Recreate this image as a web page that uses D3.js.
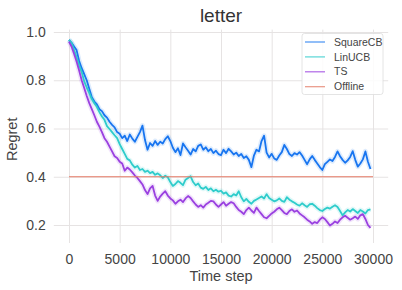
<!DOCTYPE html>
<html>
<head>
<meta charset="utf-8">
<script src="https://cdn.jsdelivr.net/npm/d3@7"></script>
<style>
  body { margin: 0; background: #fff; }
  svg { font-family: "Liberation Sans", Arial, sans-serif; }
  .axis .domain { display: none; }
  .axis line { stroke: #e6e3e3; stroke-width: 1; }
  .axis text { fill: #444; font-size: 14px; }
</style>
</head>
<body>
<div id="chart"></div>
<script>
// time steps, one sample every 250 steps
const steps = d3.range(0, 30000, 250);

const squareCB = [
  0.967, 0.955, 0.940, 0.925, 0.880, 0.850, 0.825, 0.800, 0.765, 0.730,
  0.712, 0.700, 0.680, 0.672, 0.655, 0.645, 0.628, 0.615, 0.605, 0.585,
  0.578, 0.560, 0.570, 0.548, 0.575, 0.558, 0.545, 0.565, 0.585, 0.612,
  0.552, 0.512, 0.540, 0.528, 0.548, 0.532, 0.545, 0.538, 0.556, 0.568,
  0.548, 0.520, 0.502, 0.518, 0.490, 0.538, 0.522, 0.508, 0.492, 0.515,
  0.505, 0.528, 0.534, 0.512, 0.522, 0.506, 0.515, 0.498, 0.508, 0.494,
  0.490, 0.512, 0.498, 0.516, 0.505, 0.492, 0.500, 0.486, 0.494, 0.478,
  0.485, 0.470, 0.440, 0.488, 0.512, 0.505, 0.548, 0.570, 0.500, 0.480,
  0.495, 0.476, 0.470, 0.488, 0.502, 0.532, 0.515, 0.494, 0.486, 0.498,
  0.492, 0.502, 0.488, 0.470, 0.452, 0.472, 0.486, 0.470, 0.455, 0.440,
  0.428, 0.452, 0.462, 0.472, 0.465, 0.482, 0.505, 0.485, 0.470, 0.458,
  0.468, 0.482, 0.506, 0.470, 0.442, 0.455, 0.472, 0.505, 0.462, 0.432
];

const linUCB = [
  0.967, 0.955, 0.925, 0.895, 0.862, 0.835, 0.795, 0.770, 0.748, 0.722,
  0.705, 0.690, 0.668, 0.650, 0.636, 0.610, 0.598, 0.585, 0.572, 0.560,
  0.535, 0.515, 0.495, 0.474, 0.468, 0.450, 0.438, 0.445, 0.428, 0.432,
  0.420, 0.425, 0.415, 0.420, 0.408, 0.414, 0.406, 0.395, 0.404, 0.398,
  0.378, 0.362, 0.370, 0.382, 0.375, 0.365, 0.388, 0.395, 0.402, 0.378,
  0.365, 0.372, 0.355, 0.350, 0.358, 0.345, 0.352, 0.340, 0.346, 0.338,
  0.342, 0.330, 0.335, 0.322, 0.318, 0.328, 0.322, 0.340, 0.315, 0.298,
  0.308, 0.296, 0.288, 0.300, 0.306, 0.312, 0.318, 0.310, 0.328, 0.312,
  0.305, 0.298, 0.302, 0.310, 0.300, 0.296, 0.315, 0.305, 0.298, 0.292,
  0.285, 0.280, 0.290, 0.282, 0.275, 0.286, 0.288, 0.280, 0.270, 0.262,
  0.258, 0.266, 0.272, 0.268, 0.276, 0.282, 0.275, 0.258, 0.240, 0.252,
  0.262, 0.256, 0.266, 0.258, 0.250, 0.262, 0.256, 0.248, 0.262, 0.265
];

const ts = [
  0.960, 0.940, 0.910, 0.878, 0.840, 0.800, 0.768, 0.735, 0.705, 0.680,
  0.655, 0.628, 0.608, 0.585, 0.560, 0.545, 0.525, 0.505, 0.485, 0.478,
  0.462, 0.455, 0.425, 0.438, 0.430, 0.418, 0.405, 0.395, 0.382, 0.368,
  0.345, 0.328, 0.352, 0.362, 0.322, 0.300, 0.318, 0.330, 0.340, 0.322,
  0.310, 0.302, 0.288, 0.298, 0.305, 0.295, 0.310, 0.320, 0.312, 0.298,
  0.285, 0.275, 0.282, 0.272, 0.285, 0.292, 0.300, 0.298, 0.285, 0.275,
  0.285, 0.295, 0.280, 0.288, 0.295, 0.290, 0.275, 0.262, 0.255, 0.245,
  0.262, 0.272, 0.260, 0.250, 0.272, 0.258, 0.245, 0.232, 0.228, 0.238,
  0.248, 0.255, 0.265, 0.272, 0.262, 0.250, 0.245, 0.258, 0.265, 0.255,
  0.260, 0.248, 0.240, 0.232, 0.222, 0.215, 0.205, 0.212, 0.208, 0.222,
  0.232, 0.225, 0.212, 0.198, 0.205, 0.215, 0.208, 0.222, 0.232, 0.238,
  0.230, 0.222, 0.228, 0.235, 0.225, 0.240, 0.245, 0.225, 0.200, 0.188
];

const offline = 0.4;
const offlineSpan = [0, 30000];

const xTicks = [0, 5000, 10000, 15000, 20000, 25000, 30000];
const yTicks = [0.2, 0.4, 0.6, 0.8, 1.0];

const series = [
  { name: 'SquareCB', values: squareCB, color: '#1875f0' },
  { name: 'LinUCB', values: linUCB, color: '#2ecccb' },
  { name: 'TS', values: ts, color: '#9a40e0' }
];
const offlineColor = '#e47a66';

const width = 402, height = 290;
const plot = { left: 53.8, right: 388.2, top: 29.6, bottom: 243 };

const svg = d3.select('#chart').append('svg')
  .attr('width', width)
  .attr('height', height);

// scales
const x = d3.scaleLinear().domain([0, 30000]).range([69, 373]);
const y = d3.scaleLinear().domain([0.2, 1.0]).range([225, 32]);

// grid + tick labels
svg.append('g').attr('class', 'axis axis-x')
  .attr('transform', `translate(0, ${plot.bottom})`)
  .call(d3.axisBottom(x).tickValues(xTicks).tickFormat(d3.format('d'))
    .tickSizeInner(-(plot.bottom - plot.top)).tickSizeOuter(0).tickPadding(8));

svg.append('g').attr('class', 'axis axis-y')
  .attr('transform', `translate(${plot.left}, 0)`)
  .call(d3.axisLeft(y).tickValues(yTicks).tickFormat(d3.format('.1f'))
    .tickSizeInner(-(plot.right - plot.left)).tickSizeOuter(0).tickPadding(8));

svg.selectAll('.axis-x .tick text').attr('y', 11.5).attr('dy', '0.71em');

const line = d3.line()
  .x((d, i) => x(steps[i]))
  .y(d => y(d));

const lines = svg.append('g').attr('class', 'lines');

// faint band under each line
series.forEach(s => {
  lines.append('path')
    .datum(s.values)
    .attr('d', line)
    .attr('fill', 'none')
    .attr('stroke', s.color)
    .attr('stroke-opacity', 0.14)
    .attr('stroke-width', 5)
    .attr('stroke-linejoin', 'round');
});

series.forEach(s => {
  lines.append('path')
    .datum(s.values)
    .attr('d', line)
    .attr('fill', 'none')
    .attr('stroke', s.color)
    .attr('stroke-width', 1.8)
    .attr('stroke-linejoin', 'round');
});

lines.append('line')
  .attr('x1', x(offlineSpan[0]))
  .attr('x2', x(offlineSpan[1]))
  .attr('y1', y(offline))
  .attr('y2', y(offline))
  .attr('stroke', offlineColor)
  .attr('stroke-width', 1.2);

// title & axis labels
svg.append('text')
  .attr('x', (plot.left + plot.right) / 2)
  .attr('y', 21.5)
  .attr('text-anchor', 'middle')
  .style('font-size', '19px')
  .style('fill', '#333')
  .text('letter');

svg.append('text')
  .attr('x', (plot.left + plot.right) / 2)
  .attr('y', 280.5)
  .attr('text-anchor', 'middle')
  .style('font-size', '14.5px')
  .style('fill', '#444')
  .text('Time step');

svg.append('text')
  .attr('transform', `translate(17, ${(plot.top + plot.bottom) / 2 + 3}) rotate(-90)`)
  .attr('text-anchor', 'middle')
  .style('font-size', '14.5px')
  .style('fill', '#444')
  .text('Regret');

// legend
const legendItems = series.map(s => ({ name: s.name, color: s.color }))
  .concat([{ name: 'Offline', color: offlineColor }]);

const legend = svg.append('g').attr('class', 'legend')
  .attr('transform', 'translate(302, 33.5)');

legend.append('rect')
  .attr('width', 81)
  .attr('height', 61)
  .attr('rx', 2.5)
  .attr('fill', '#fff')
  .attr('fill-opacity', 0.85)
  .attr('stroke', '#dddddd')
  .attr('stroke-width', 0.8);

const item = legend.selectAll('.item').data(legendItems).enter()
  .append('g').attr('class', 'item')
  .attr('transform', (d, i) => `translate(0, ${8.5 + i * 14.9})`);

item.append('line')
  .attr('x1', 3).attr('x2', 23)
  .attr('stroke', d => d.color)
  .attr('stroke-opacity', 0.8)
  .attr('stroke-width', 1.2);

item.append('text')
  .attr('x', 32)
  .attr('dy', '0.35em')
  .style('font-size', '10.5px')
  .style('fill', '#444')
  .text(d => d.name);
</script>
</body>
</html>
